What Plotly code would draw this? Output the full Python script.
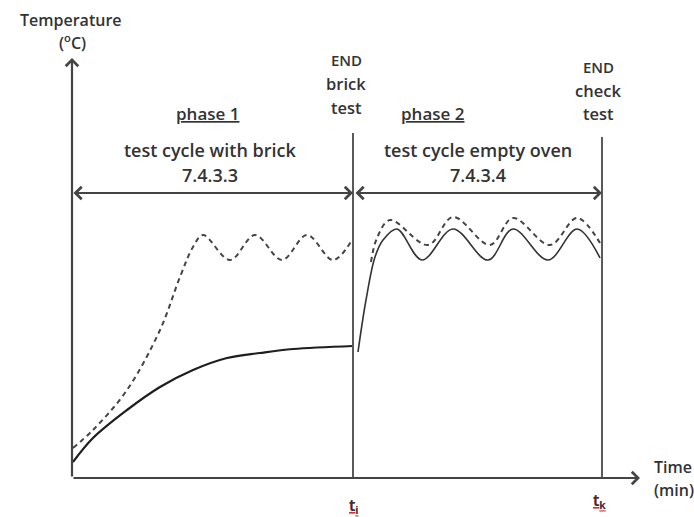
import plotly.graph_objects as go

# ---- data (schematic units: time from origin, temperature from origin) ----
t_end_brick = 281   # t_i
t_end_check = 530   # t_k

p1_solid_t = [1, 21, 55, 88, 121, 155, 188, 221, 281]
p1_solid_T = [16, 40, 68, 91, 108, 120, 125, 129, 132]

p1_dash_t = [1, 21, 55, 88, 108, 121, 131, 158, 183, 210, 235, 261, 280]
p1_dash_T = [30, 48, 88, 148, 201, 231, 243, 218, 243, 218, 243, 218, 238]

p2_solid_t = [286, 294, 303, 311, 325, 350, 381, 416, 441, 476, 505, 528]
p2_solid_T = [126, 178, 221, 238, 249, 218, 249, 218, 249, 218, 249, 220]

p2_dash_t = [299, 305, 318, 356, 381, 418, 441, 478, 505, 528]
p2_dash_T = [216, 240, 258, 233, 261, 233, 260, 233, 260, 235]

font = "'Open Sans', Lato, sans-serif"
tc = "#333333"
axc = "#5a5a5a"

fig = go.Figure()
fig.add_trace(go.Scatter(x=p1_solid_t, y=p1_solid_T, mode="lines",
                         line=dict(color="#1e1e1e", width=2.2, shape="spline")))
fig.add_trace(go.Scatter(x=p1_dash_t, y=p1_dash_T, mode="lines",
                         line=dict(color="#444", width=2, dash="5px,4px", shape="spline")))
fig.add_trace(go.Scatter(x=p2_solid_t, y=p2_solid_T, mode="lines",
                         line=dict(color="#333", width=1.6, shape="spline")))
fig.add_trace(go.Scatter(x=p2_dash_t, y=p2_dash_T, mode="lines",
                         line=dict(color="#444", width=2, dash="5px,4px", shape="spline")))

# vertical marker lines at t_i and t_k
for tx, top in [(t_end_brick, 345), (t_end_check, 341)]:
    fig.add_shape(type="line", x0=tx, x1=tx, y0=0, y1=top, xref="x", yref="y",
                  line=dict(color=axc, width=2))

anns = []
# axes with arrowheads
anns.append(dict(x=0, y=420, ax=0, ay=0, xref="x", yref="y", axref="x", ayref="y",
                 showarrow=True, arrowhead=4, arrowsize=1.1, arrowwidth=2.2, arrowcolor="#444", text=""))
anns.append(dict(x=568, y=0, ax=0, ay=0, xref="x", yref="y", axref="x", ayref="y",
                 showarrow=True, arrowhead=4, arrowsize=1.1, arrowwidth=2.2, arrowcolor="#444", text=""))
# double arrows for phases
anns.append(dict(x=t_end_brick, y=285, ax=0, ay=285, xref="x", yref="y", axref="x", ayref="y",
                 showarrow=True, arrowhead=4, startarrowhead=4, arrowside="end+start",
                 arrowsize=1.1, startarrowsize=1.1, arrowwidth=2.2, arrowcolor="#444", text=""))
anns.append(dict(x=t_end_check, y=285, ax=t_end_brick + 1, ay=285, xref="x", yref="y", axref="x", ayref="y",
                 showarrow=True, arrowhead=4, startarrowhead=4, arrowside="end+start",
                 arrowsize=1.1, startarrowsize=1.1, arrowwidth=2.2, arrowcolor="#444", text=""))

def txt(x, y, s, size=15, xanchor="center", color=tc):
    anns.append(dict(x=x, y=y, xref="x", yref="y", text=s, showarrow=False,
                     xanchor=xanchor, yanchor="middle",
                     font=dict(family=font, size=size, color=color, weight=600)))

txt(-1, 458, "Temperature", 16)
txt(0, 436, "(<sup>o</sup>C)", 16)
txt(274, 418, "END", 15)
txt(274, 395, "brick", 16.5)
txt(274, 371, "test", 16.5)
txt(526, 411, "END", 15)
txt(526, 388, "check", 16.5)
txt(526, 365, "test", 16.5)
txt(135, 365, "<span style='text-decoration:underline'>phase 1</span>", 17)
txt(360, 365, "<span style='text-decoration:underline'>phase 2</span>", 17)
txt(138, 328, "test cycle with brick", 18)
txt(138, 303, "7.4.3.3", 18)
txt(406, 328, "test cycle empty oven", 18)
txt(406, 303, "7.4.3.4", 18)
txt(580, 11, "Time", 16, "left")
txt(580, -12, "(min)", 16, "left")
# spell-check style red underline under t_i / t_k (red underlined copy beneath dark text)
for lx, ly, lab in [(t_end_brick, -27, "t<sub>i</sub>"), (t_end_check - 3, -22, "t<sub>k</sub>")]:
    txt(lx, ly, "<span style='text-decoration:underline'>" + lab + "</span>", 16, color="#d43030")
    txt(lx, ly, lab, 16)

fig.update_layout(
    width=694, height=517, margin=dict(l=0, r=0, t=0, b=0),
    paper_bgcolor="white", plot_bgcolor="white", showlegend=False,
    xaxis=dict(range=[-72, 622], visible=False, fixedrange=True),
    yaxis=dict(range=[-39, 478], visible=False, fixedrange=True),
    annotations=anns,
)
fig.write_html("out.html")
